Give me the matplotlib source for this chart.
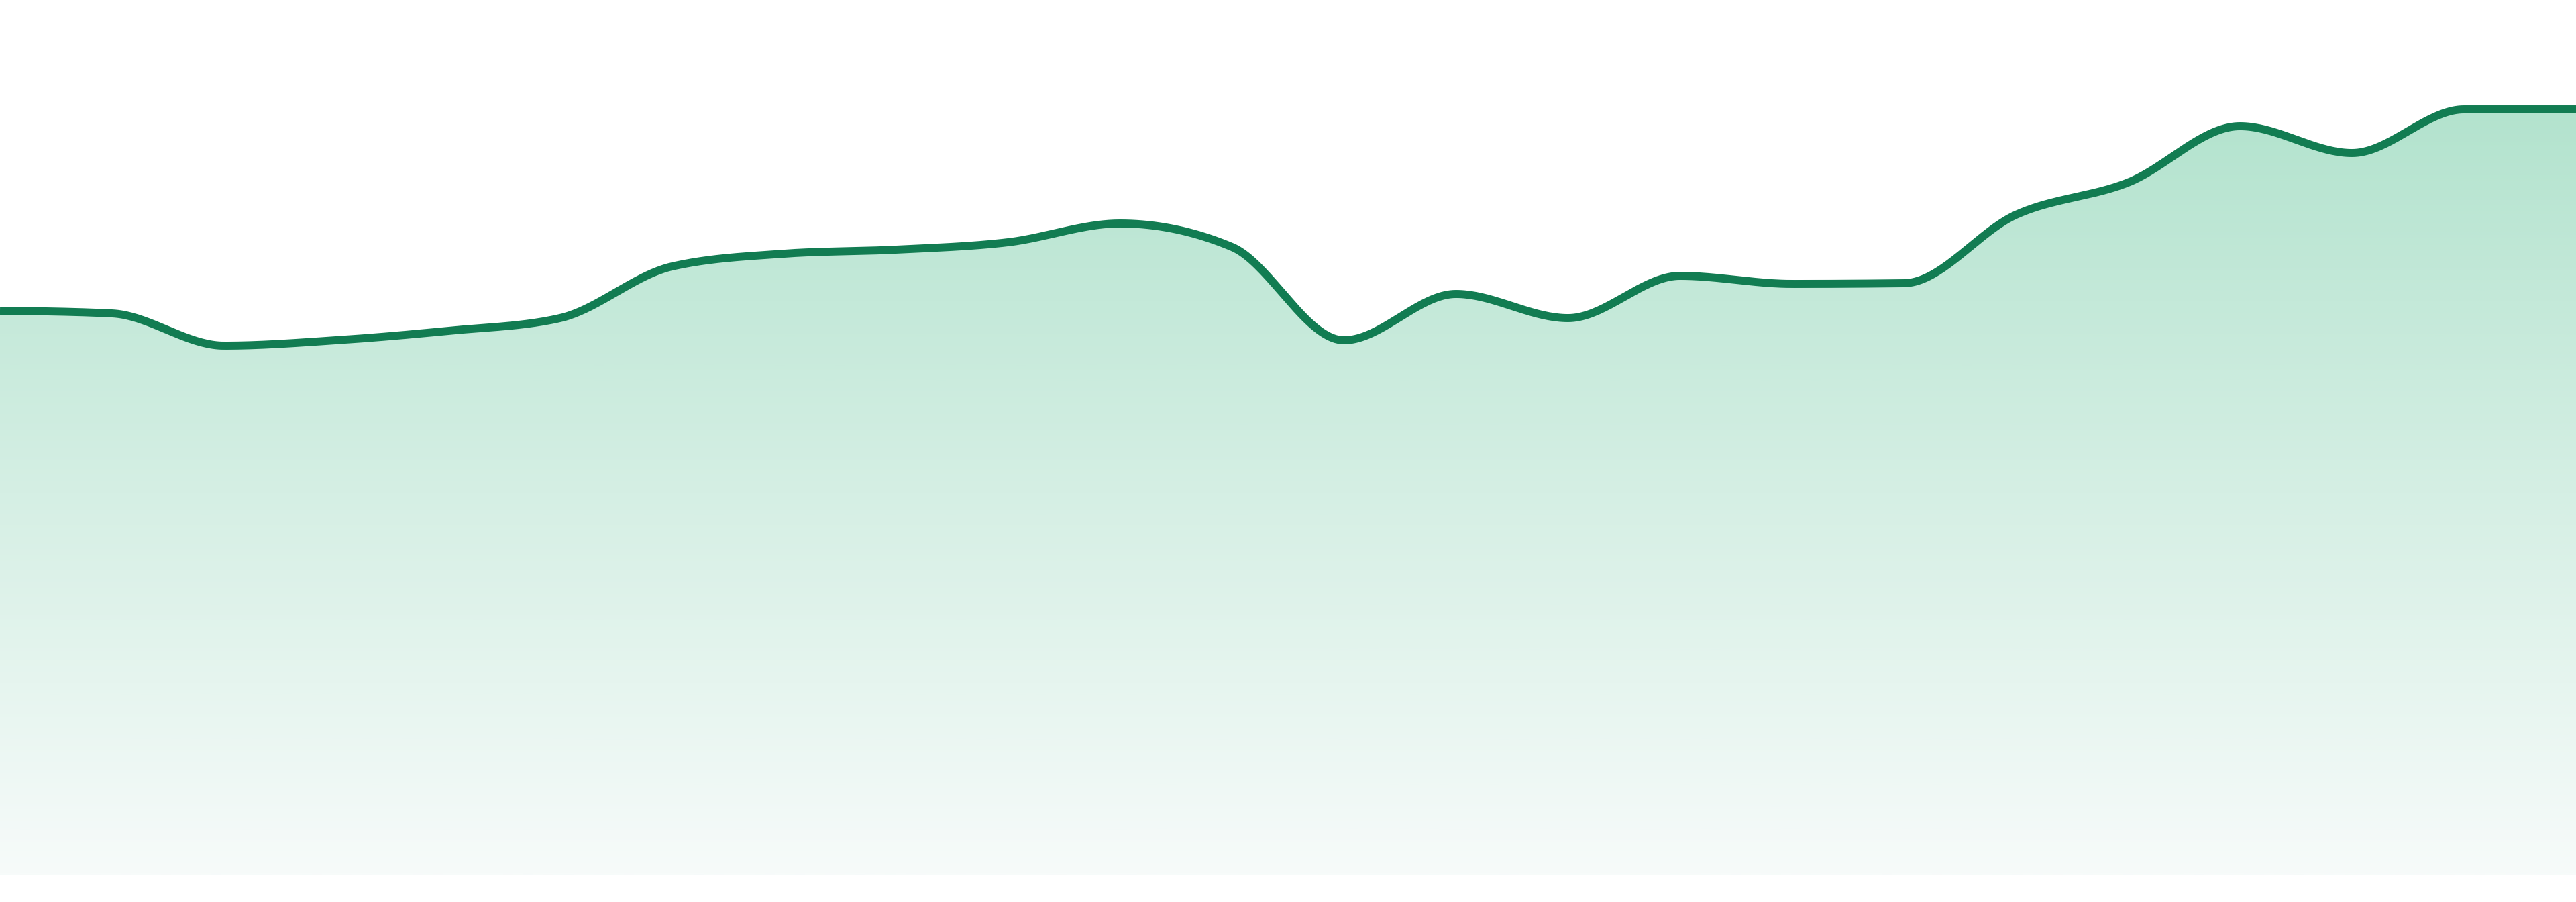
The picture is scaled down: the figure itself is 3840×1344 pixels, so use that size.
import numpy as np
import matplotlib
matplotlib.use("Agg")
import matplotlib.pyplot as plt
from matplotlib.colors import LinearSegmentedColormap

# values (24 evenly spaced points)
index = list(range(24))
values = [84.1, 83.7, 78.9, 79.7, 81.1, 83.0, 90.7, 92.6, 93.2, 94.3, 97.1, 93.6,
          79.7, 86.6, 83.0, 89.3, 88.1, 88.2, 98.4, 103.2, 111.6, 107.6, 114.1, 114.1]

line_color = "#127c52"
top_color = "#b3e3ce"
bottom_color = "#f7fbfa"


def monotone_curve(x, y, per_seg=40):
    # Steffen-style monotone cubic, like d3.curveMonotoneX
    x = np.asarray(x, float)
    y = np.asarray(y, float)
    n = len(x)
    h = np.diff(x)
    s = np.diff(y) / h
    t = np.zeros(n)
    for i in range(1, n - 1):
        p = (s[i - 1] * h[i] + s[i] * h[i - 1]) / (h[i - 1] + h[i])
        t[i] = (np.sign(s[i - 1]) + np.sign(s[i])) * min(abs(s[i - 1]), abs(s[i]), 0.5 * abs(p))
    t[0] = (3 * s[0] - t[1]) / 2 if n > 2 else s[0]
    t[-1] = (3 * s[-1] - t[-2]) / 2 if n > 2 else s[-1]
    xs, ys = [], []
    for i in range(n - 1):
        u = np.linspace(0, 1, per_seg, endpoint=False)
        h00 = 2 * u**3 - 3 * u**2 + 1
        h10 = u**3 - 2 * u**2 + u
        h01 = -2 * u**3 + 3 * u**2
        h11 = u**3 - u**2
        xs.append(x[i] + u * h[i])
        ys.append(h00 * y[i] + h10 * h[i] * t[i] + h01 * y[i + 1] + h11 * h[i] * t[i + 1])
    xs.append([x[-1]])
    ys.append([y[-1]])
    return np.concatenate(xs), np.concatenate(ys)


cx, cy = monotone_curve(index, values)

fig = plt.figure(figsize=(19.2, 6.72), dpi=200)
ax = fig.add_axes([0, 40 / 1344, 1, 1304 / 1344])
ymin, ymax = 0, 130.4
ax.set_xlim(index[0], index[-1])
ax.set_ylim(ymin, ymax)
ax.axis("off")

# vertical gradient under the curve
top = max(values)
cmap = LinearSegmentedColormap.from_list("grad", [bottom_color, top_color])
grad = np.linspace(0, 1, 512).reshape(-1, 1)
img = ax.imshow(grad, cmap=cmap, aspect="auto", origin="lower",
                extent=[index[0], index[-1], ymin, top], zorder=1)
poly = ax.fill_between(cx, cy, ymin, color="none", lw=0)
clip = poly.get_paths()[0]
img.set_clip_path(clip, transform=ax.transData)

ax.plot(cx, cy, color=line_color, lw=4.3, solid_capstyle="butt", zorder=3, clip_on=False)

fig.savefig("out.png", dpi=200)
